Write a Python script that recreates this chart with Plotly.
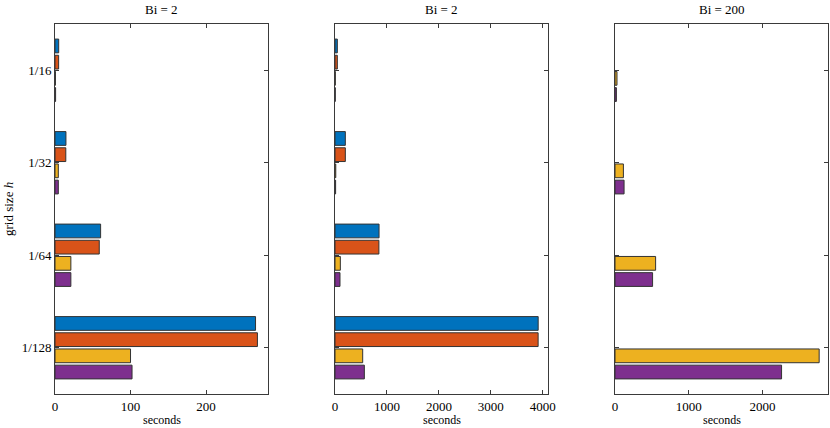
"""Timing comparison — horizontal grouped bars per grid size, three Biot numbers."""

import plotly.graph_objects as go

# ── data ─────────────────────────────────────────────────────────────

grid_sizes = ["1/16", "1/32", "1/64", "1/128"]
panel_titles = ["Bi = 2", "Bi = 2", "Bi = 200"]

# seconds, one list per method and panel (None = not run)
method1 = [
    [4.9, 14.5, 60.4, 265.5],
    [45, 199, 848, 3911],
    [None, None, None, None],
]
method2 = [
    [4.8, 14.3, 58.6, 268],
    [45, 199, 845, 3910],
    [None, None, None, None],
]
method3 = [
    [0.6, 4.4, 21, 100],
    [6, 15, 103, 533],
    [27, 114, 551, 2770],
]
method4 = [
    [0.8, 4.4, 21, 102],
    [5, 12, 96, 565],
    [19, 123, 510, 2260],
]

x_ranges = [[0, 282], [0, 4100], [0, 2890]]
x_ticks = [[0, 100, 200], [0, 1000, 2000, 3000, 4000], [0, 1000, 2000]]

COLORS = ["#0072BD", "#D95319", "#EDB120", "#7E2F8E"]

# ── figure ───────────────────────────────────────────────────────────

W, H = 830, 428
FONT = "Liberation Serif, DejaVu Serif, serif"
FS = 13
domains = [(55, 268), (335, 548), (615, 828)]
y_dom = [1 - 394 / H, 1 - 24 / H]

fig = go.Figure()
series = [method1, method2, method3, method4]


def label(text, x, y, angle=0, anchor="middle", size=FS):
    fig.add_annotation(
        text=text,
        x=x / W,
        y=1 - y / H,
        xref="paper",
        yref="paper",
        textangle=angle,
        xanchor="center",
        yanchor=anchor,
        showarrow=False,
        borderpad=0,
        font={"family": FONT, "size": size, "color": "#000"},
    )


for p in range(3):
    suffix = "" if p == 0 else str(p + 1)
    for s, data in enumerate(series):
        fig.add_trace(
            go.Bar(
                y=grid_sizes,
                x=data[p],
                orientation="h",
                marker={"color": COLORS[s], "line": {"color": "#333333", "width": 1}},
                xaxis="x" + suffix,
                yaxis="y" + suffix,
                showlegend=False,
            )
        )

    axis_common = {
        "showline": True,
        "linecolor": "#3a3a3a",
        "linewidth": 1,
        "mirror": "ticks",
        "ticks": "inside",
        "ticklen": 4,
        "tickcolor": "#3a3a3a",
        "showgrid": False,
        "zeroline": False,
        "automargin": False,
        "tickfont": {"family": FONT, "size": FS, "color": "#000"},
    }
    fig.layout["xaxis" + suffix] = dict(
        axis_common,
        domain=[domains[p][0] / W, domains[p][1] / W],
        anchor="y" + suffix,
        range=x_ranges[p],
        tickvals=x_ticks[p],
    )
    fig.layout["yaxis" + suffix] = dict(
        axis_common,
        domain=y_dom,
        anchor="x" + suffix,
        type="category",
        categoryorder="array",
        categoryarray=grid_sizes,
        range=[3.5, -0.5],
        showticklabels=(p == 0),
    )
    mid = (domains[p][0] + domains[p][1]) / 2
    label(panel_titles[p], mid, 10)
    label("seconds", mid, 428, anchor="bottom", size=12)

label("grid size <i>h</i>", 8, (24 + 394) / 2, angle=-90)

fig.update_layout(
    width=W,
    height=H,
    margin={"l": 0, "r": 0, "t": 0, "b": 0},
    barmode="group",
    bargap=0.3,
    bargroupgap=0.15,
    plot_bgcolor="white",
    paper_bgcolor="white",
    font={"family": FONT, "size": FS, "color": "#000"},
)

# drop the default page margin so the figure sits at the window's corner
fig.write_html(
    "out.html",
    config={"displayModeBar": False},
    post_script="document.body.style.margin = '0';",
)
